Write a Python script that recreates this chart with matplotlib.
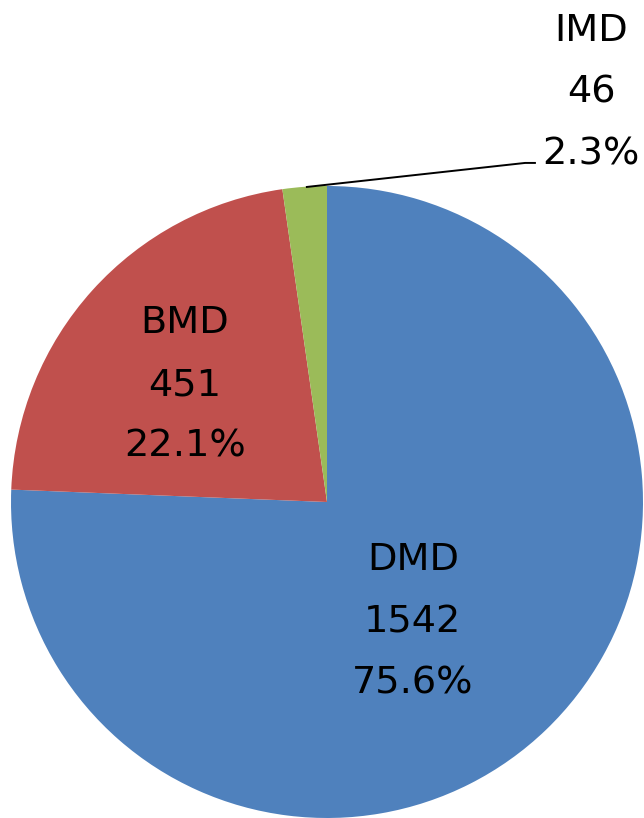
import numpy as np
import matplotlib.pyplot as plt

labels = ["DMD", "BMD", "IMD"]
counts = [1542, 451, 46]
colors = ["#4F81BD", "#C0504D", "#9BBB59"]

total = sum(counts)
pcts = [c / total * 100 for c in counts]

fig = plt.figure(figsize=(6.44, 8.18), dpi=100)
ax = fig.add_axes([0, 0, 1, 1])

wedges, _ = ax.pie(counts, colors=colors, startangle=90, counterclock=False,
                   radius=1.0, wedgeprops=dict(linewidth=0))

# pie centre sits at (327, 502) px, radius 316 px
ax.set_xlim(-327 / 316, (644 - 327) / 316)
ax.set_ylim(-316 / 316, 502 / 316)
ax.set_aspect("auto")
ax.axis("off")

font = dict(fontsize=27.5, family="DejaVu Sans", ha="center", va="center",
            linespacing=1.92, color="black")

# label anchors (data units)
label_pos = {"DMD": (0.272, -0.38), "BMD": (-0.45, 0.37), "IMD": (0.836, 1.295)}

for w, lab, c, p in zip(wedges, labels, counts, pcts):
    x, y = label_pos[lab]
    ax.text(x, y, f"{lab}\n{c}\n{p:.1f}%", **font)

# leader line for the small IMD slice
w = wedges[2]
mid = np.deg2rad((w.theta1 + w.theta2) / 2)
ex, ey = 0.97 * np.cos(mid) + 0.005, 0.997
ax.plot([ex, 0.627, 0.658], [ey, 1.073, 1.073], color="black", lw=1.4)

fig.savefig("out.png", dpi=100)
